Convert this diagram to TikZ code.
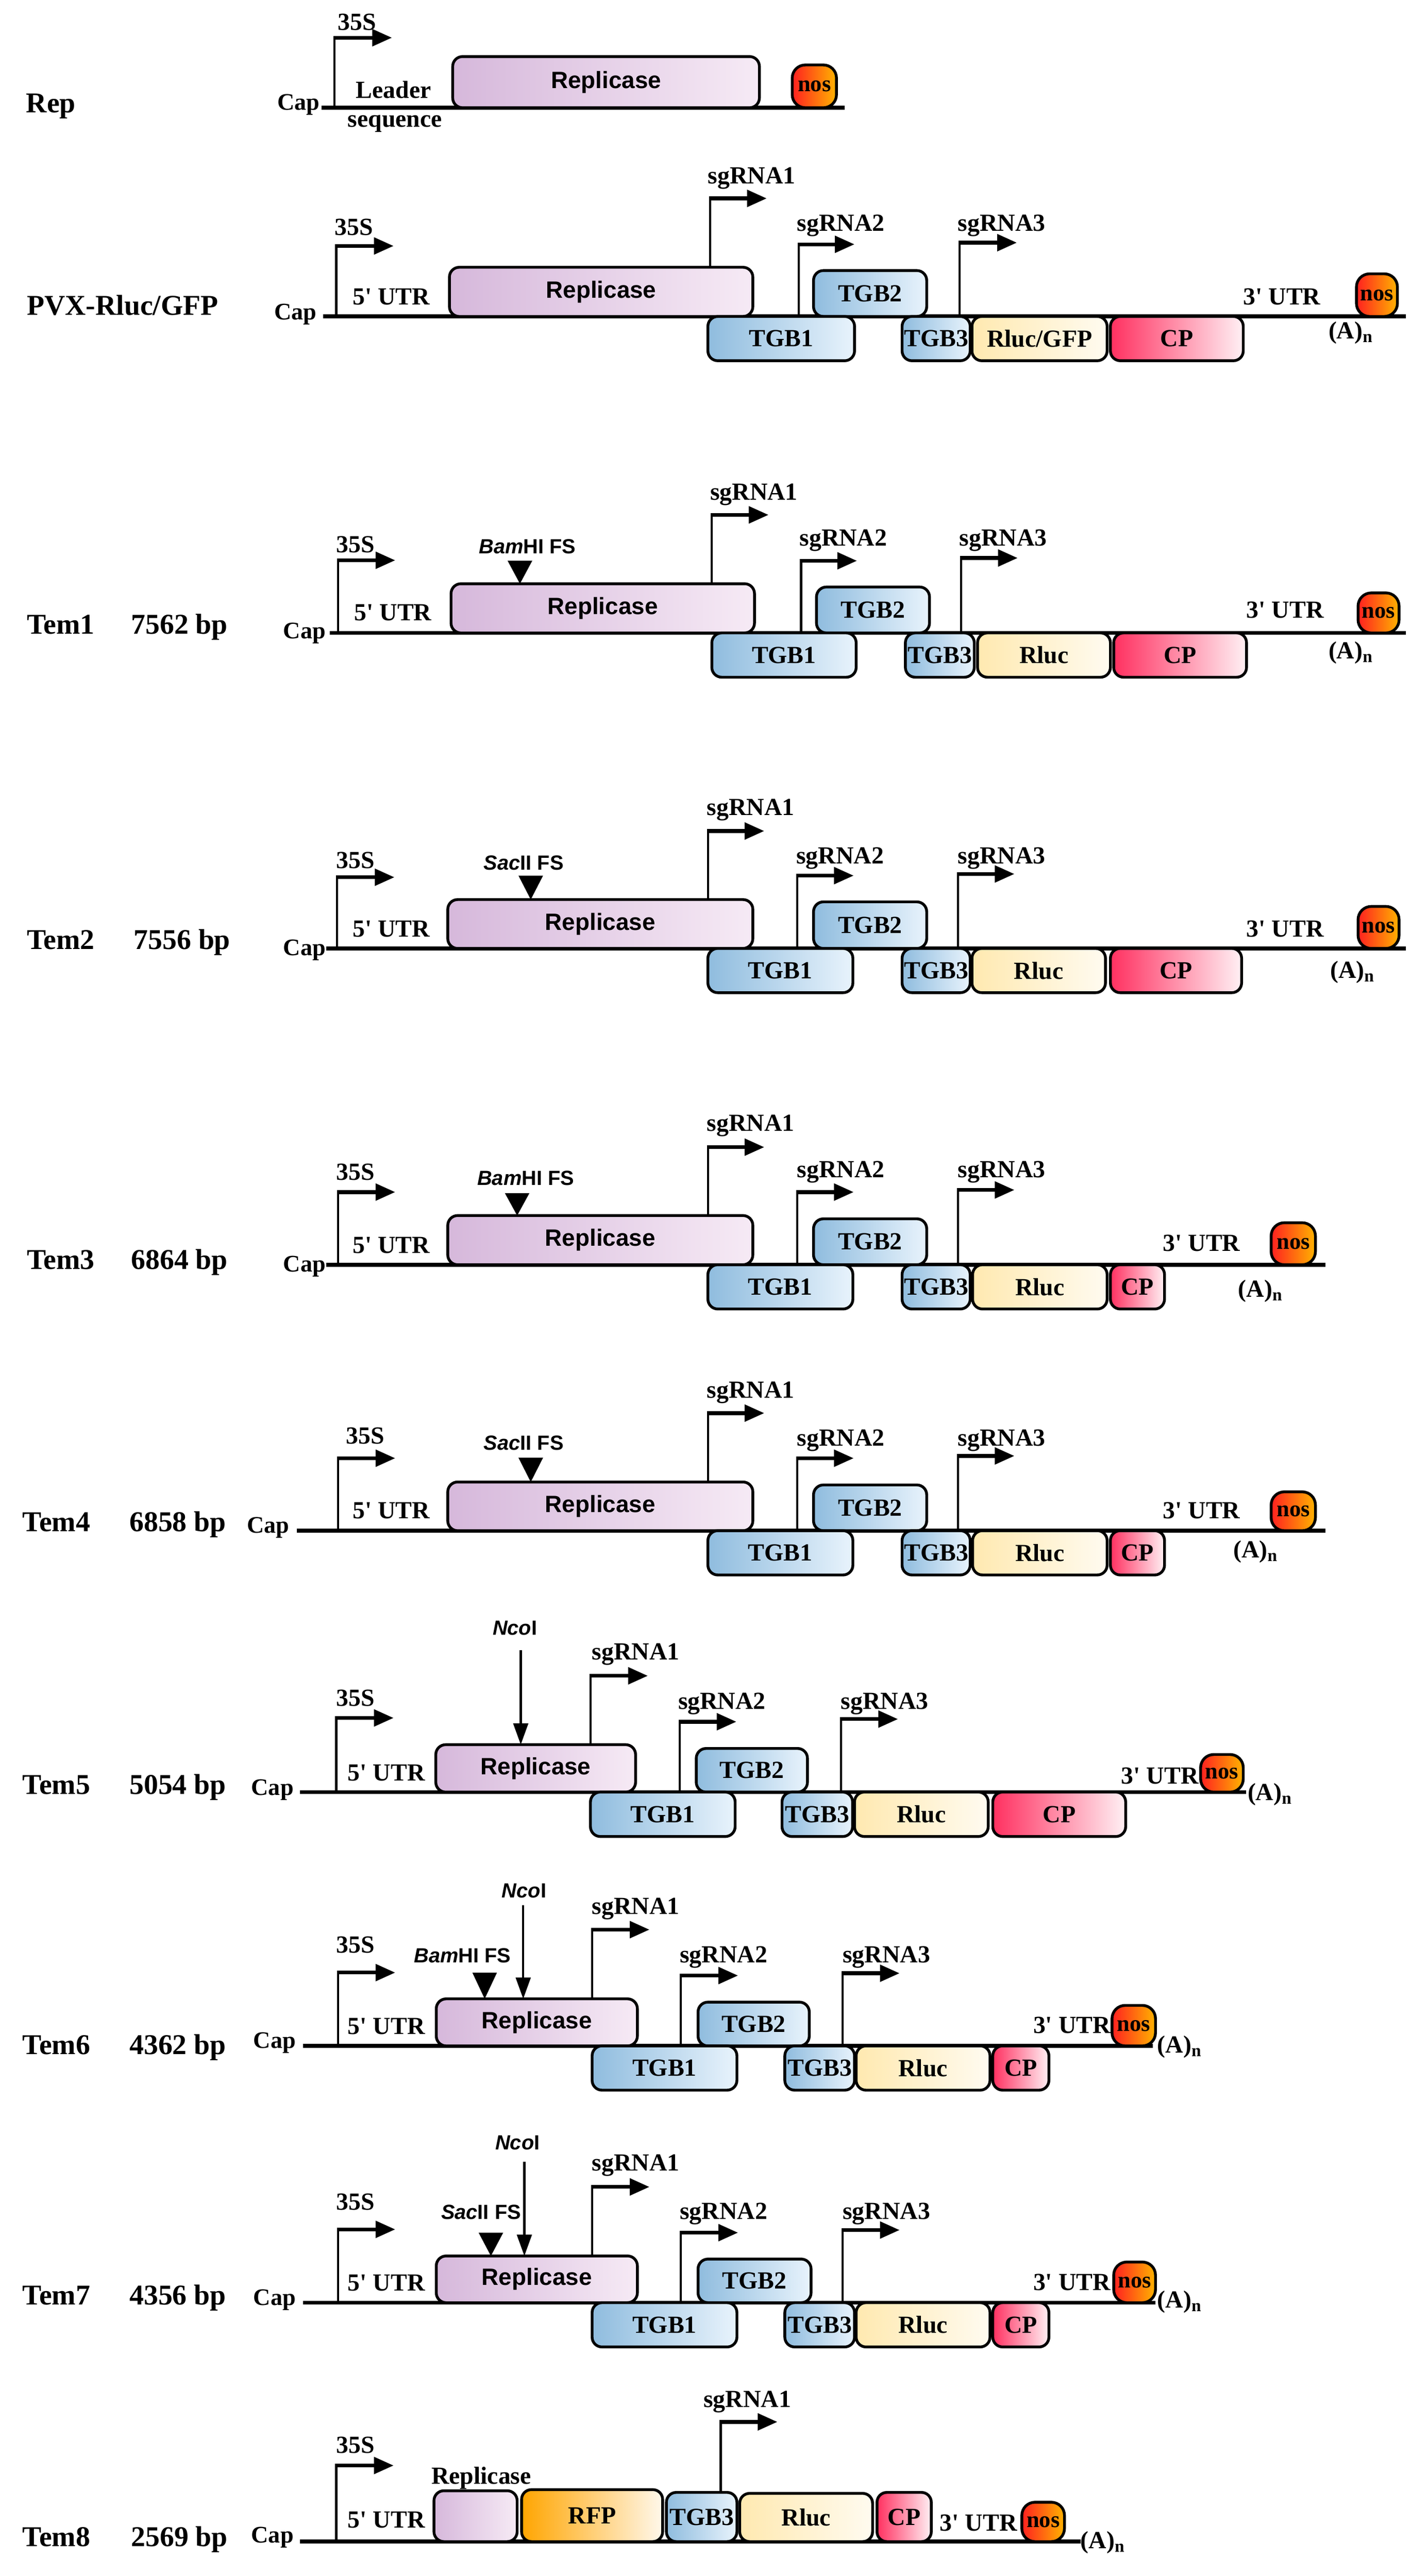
\documentclass[tikz,border=0pt]{standalone}
\usepackage{fontspec}
\setmainfont{Liberation Serif}
\setsansfont{Liberation Sans}
\usetikzlibrary{arrows.meta}
\definecolor{replL}{RGB}{214,184,219}
\definecolor{replR}{RGB}{246,234,245}
\definecolor{tgbL}{RGB}{143,188,222}
\definecolor{tgbR}{RGB}{232,243,252}
\definecolor{rlucL}{RGB}{255,233,176}
\definecolor{rlucR}{RGB}{255,251,240}
\definecolor{cpL}{RGB}{255,48,96}
\definecolor{cpR}{RGB}{255,240,244}
\definecolor{nosL}{RGB}{255,32,32}
\definecolor{nosR}{RGB}{255,179,0}
\definecolor{rfpL}{RGB}{255,165,0}
\definecolor{rfpR}{RGB}{255,248,235}
\newcommand\utr[1]{#1\textquotesingle{} UTR}
\tikzset{
  backbone/.style={line width=2.4pt},
  stem/.style={line width=1.3pt},
  shaft/.style={line width=2.3pt,-{Triangle[length=12pt,width=10pt]}},
  ncoarrow/.style={line width=1.3pt,-{Triangle[length=13pt,width=9pt]}},
  lab/.style={font=\fontsize{15}{17}\selectfont\bfseries,inner sep=0pt,outer sep=0pt,anchor=base west},
  caplab/.style={font=\fontsize{14.5}{17}\selectfont\bfseries,inner sep=0pt,outer sep=0pt,anchor=base east},
  rowlab/.style={font=\fontsize{17.5}{20}\selectfont\bfseries,inner sep=0pt,outer sep=0pt,anchor=base west},
  enz/.style={font=\fontsize{12.5}{14}\selectfont\sffamily\bfseries,inner sep=0pt,outer sep=0pt,anchor=base west},
  gbox/.style={draw,line width=1.7pt,rounded corners=6pt,inner sep=0pt,outer sep=0pt,font=\fontsize{15}{17}\selectfont\bfseries},
  repl/.style={gbox,left color=replL,right color=replR,font=\fontsize{14.4}{16}\selectfont\sffamily\bfseries},
  tgb/.style={gbox,left color=tgbL,right color=tgbR},
  rluc/.style={gbox,left color=rlucL,right color=rlucR},
  cpb/.style={gbox,left color=cpL,right color=cpR},
  rfp/.style={gbox,left color=rfpL,right color=rfpR},
  nosb/.style={gbox,left color=nosL,right color=nosR,rounded corners=8pt,font=\fontsize{14}{16}\selectfont\bfseries},
}
% name, style, x1, x2, ytop, ybottom, text
\newcommand\genebox[7]{%
  \pgfmathsetmacro\gbw{#4-#3}%
  \pgfmathsetmacro\gbh{#6-#5}%
  \pgfmathsetmacro\gbx{(#3+#4)/2}%
  \pgfmathsetmacro\gby{(#5+#6)/2}%
  \node[#2,minimum width=\gbw pt,minimum height=\gbh pt] (#1) at (\gbx,\gby) {#7};}
% name, x, ybottom, ytop, xtip
\newcommand\bent[5]{%
  \coordinate (#1a) at (#2,#3);
  \coordinate (#1b) at (#2,#4);
  \coordinate (#1c) at (#5,#4);
  \draw[stem] (#1a) -- (#1b);
  \draw[shaft] ([xshift=-0.65pt]#1b) -- (#1c);
}
% name, xc, ytop, ytip
\newcommand\fsmark[4]{%
  \coordinate (#1) at (#2,#4);
  \fill (#2-7.5,#3) -- (#2+7.5,#3) -- (#1) -- cycle;
}
% name, x, ytop, ytip
\newcommand\ncoarr[4]{%
  \coordinate (#1a) at (#2,#3);
  \coordinate (#1b) at (#2,#4);
  \draw[ncoarrow] (#1a) -- (#1b);
}
% name, x1, x2, y
\newcommand\bbone[4]{%
  \coordinate (#1s) at (#2,#4);
  \coordinate (#1e) at (#3,#4);
  \draw[backbone] (#1s) -- (#1e);
}
\begin{document}
\begin{tikzpicture}[x=1pt,y=-1pt]
\fill[white] (0,0) rectangle (860,1571);
\useasboundingbox (0,0) rectangle (860,1571);

% ---------------- Rep ----------------
\bbone{r0l}{196}{515}{65.7}
\genebox{r0rep}{repl}{276}{463}{34.5}{65.7}{Replicase}
\genebox{r0nos}{nosb}{483}{510}{39.6}{65.7}{nos}
\bent{r0p}{204}{65.7}{23}{239}
\node[rowlab] (r0lab) at (16,68.5) {Rep};
\node[caplab] (r0cap) at (195,67) {Cap};
\node[lab] (r0p35) at (206,18.5) {35S};
\node[lab] (r0ld) at (217,60) {Leader};
\node[lab] (r0sq) at (212,77.4) {sequence};

% ---------------- PVX-Rluc/GFP ----------------
\bbone{r1l}{197}{857}{193}
\genebox{r1rep}{repl}{274}{459}{163}{193}{Replicase}
\genebox{r1tgb2}{tgb}{496}{565}{165}{193}{TGB2}
\genebox{r1tgb1}{tgb}{431.6}{521}{193}{220}{TGB1}
\genebox{r1tgb3}{tgb}{550}{591.5}{193}{220}{TGB3}
\genebox{r1rluc}{rluc}{592.6}{675}{193}{220}{Rluc/GFP}
\genebox{r1cp}{cpb}{677}{758}{193}{220}{CP}
\genebox{r1nos}{nosb}{827}{852}{167}{193}{nos}
\bent{r1p}{205}{193}{150}{240}
\bent{r1sa}{433}{163}{121}{467.5}
\bent{r1sb}{487}{193}{149}{521}
\bent{r1sc}{585}{193}{148}{620}
\node[rowlab] (r1lab) at (16.5,192) {PVX-Rluc/GFP};
\node[caplab] (r1cap) at (193,195) {Cap};
\node[lab] (r1p35) at (204,143.5) {35S};
\node[lab] (r1u5) at (215,186) {\utr{5}};
\node[lab] (r1la) at (431.6,112) {sgRNA1};
\node[lab] (r1lb) at (486,141) {sgRNA2};
\node[lab] (r1lc) at (584,141) {sgRNA3};
\node[lab] (r1u3) at (758,186) {\utr{3}};
\node[lab] (r1an) at (810,206.5) {(A)\textsubscript{n}};

% ---------------- Tem1 ----------------
\bbone{r2l}{201}{857}{386}
\genebox{r2rep}{repl}{275}{460}{356}{386}{Replicase}
\genebox{r2tgb2}{tgb}{497.8}{566.7}{358}{386}{TGB2}
\genebox{r2tgb1}{tgb}{434}{522}{386}{413}{TGB1}
\genebox{r2tgb3}{tgb}{552}{594}{386}{413}{TGB3}
\genebox{r2rluc}{rluc}{596}{677}{386}{413}{Rluc}
\genebox{r2cp}{cpb}{679}{760}{386}{413}{CP}
\genebox{r2nos}{nosb}{828}{853}{361.6}{386}{nos}
\bent{r2p}{206}{386}{341.7}{241}
\bent{r2sa}{434}{356}{314}{468.6}
\bent{r2sb}{488.4}{386}{342}{522.5}
\bent{r2sc}{586}{386}{340.3}{620.5}
\fsmark{r2fs}{317}{342}{356}
\node[rowlab] (r2lab) at (16.5,386.5) {Tem1};
\node[rowlab] (r2bp) at (80,386.5) {7562 bp};
\node[caplab] (r2cap) at (198.5,389.6) {Cap};
\node[lab] (r2p35) at (205,337) {35S};
\node[enz] (r2enz) at (292,337.5) {\textit{Bam}HI FS};
\node[lab] (r2u5) at (216,378.4) {\utr{5}};
\node[lab] (r2la) at (433,304.8) {sgRNA1};
\node[lab] (r2lb) at (487.5,332.8) {sgRNA2};
\node[lab] (r2lc) at (585,333) {sgRNA3};
\node[lab] (r2u3) at (760,377) {\utr{3}};
\node[lab] (r2an) at (810,401.8) {(A)\textsubscript{n}};

% ---------------- Tem2 ----------------
\bbone{r3l}{199}{857}{578.4}
\genebox{r3rep}{repl}{273}{459}{548.6}{578.4}{Replicase}
\genebox{r3tgb2}{tgb}{496}{565}{550}{578.4}{TGB2}
\genebox{r3tgb1}{tgb}{431.6}{520}{578.4}{605.4}{TGB1}
\genebox{r3tgb3}{tgb}{550}{591.5}{578.4}{605.4}{TGB3}
\genebox{r3rluc}{rluc}{592.6}{674}{578.4}{605.4}{Rluc}
\genebox{r3cp}{cpb}{677}{757}{578.4}{605.4}{CP}
\genebox{r3nos}{nosb}{828}{853}{552.8}{578.4}{nos}
\bent{r3p}{205.6}{578.4}{535}{240.5}
\bent{r3sa}{431.6}{548.6}{506.8}{466}
\bent{r3sb}{486}{578.4}{534}{520.5}
\bent{r3sc}{584}{578.4}{533}{618.5}
\fsmark{r3fs}{323.6}{534}{548.6}
\node[rowlab] (r3lab) at (16.5,579) {Tem2};
\node[rowlab] (r3bp) at (81.6,579) {7556 bp};
\node[caplab] (r3cap) at (198.5,582.6) {Cap};
\node[lab] (r3p35) at (205,529.5) {35S};
\node[enz] (r3enz) at (295,530.4) {\textit{Sac}II FS};
\node[lab] (r3u5) at (215,571.4) {\utr{5}};
\node[lab] (r3la) at (431,497.3) {sgRNA1};
\node[lab] (r3lb) at (485.5,526.7) {sgRNA2};
\node[lab] (r3lc) at (584,526.7) {sgRNA3};
\node[lab] (r3u3) at (760,571.4) {\utr{3}};
\node[lab] (r3an) at (811,596.5) {(A)\textsubscript{n}};

% ---------------- Tem3 ----------------
\bbone{r4l}{199}{808}{771.3}
\genebox{r4rep}{repl}{273}{459}{741.3}{771.3}{Replicase}
\genebox{r4tgb2}{tgb}{496}{565}{743.3}{771.3}{TGB2}
\genebox{r4tgb1}{tgb}{431.6}{520}{771.3}{798.3}{TGB1}
\genebox{r4tgb3}{tgb}{550}{591.5}{771.3}{798.3}{TGB3}
\genebox{r4rluc}{rluc}{593}{675}{771.3}{798.3}{Rluc}
\genebox{r4cp}{cpb}{677}{710}{771.3}{798.3}{CP}
\genebox{r4nos}{nosb}{775}{802}{745.7}{771.3}{nos}
\bent{r4p}{206}{771.3}{727}{241}
\bent{r4sa}{431.6}{741.3}{699.6}{466}
\bent{r4sb}{486}{771.3}{727}{520.5}
\bent{r4sc}{584}{771.3}{725.7}{618.5}
\fsmark{r4fs}{315.3}{727.6}{741.3}
\node[rowlab] (r4lab) at (16.5,774) {Tem3};
\node[rowlab] (r4bp) at (80,774) {6864 bp};
\node[caplab] (r4cap) at (198.5,775.5) {Cap};
\node[lab] (r4p35) at (205,719.6) {35S};
\node[enz] (r4enz) at (291,722.9) {\textit{Bam}HI FS};
\node[lab] (r4u5) at (215,764.4) {\utr{5}};
\node[lab] (r4la) at (431,689.8) {sgRNA1};
\node[lab] (r4lb) at (486,718) {sgRNA2};
\node[lab] (r4lc) at (584,718) {sgRNA3};
\node[lab] (r4u3) at (709,763) {\utr{3}};
\node[lab] (r4an) at (755,791) {(A)\textsubscript{n}};

% ---------------- Tem4 ----------------
\bbone{r5l}{181}{808}{933.5}
\genebox{r5rep}{repl}{273}{459}{903.8}{933.5}{Replicase}
\genebox{r5tgb2}{tgb}{496}{565}{905.6}{933.5}{TGB2}
\genebox{r5tgb1}{tgb}{431.6}{520}{933.5}{960.5}{TGB1}
\genebox{r5tgb3}{tgb}{550}{591.5}{933.5}{960.5}{TGB3}
\genebox{r5rluc}{rluc}{593}{675}{933.5}{960.5}{Rluc}
\genebox{r5cp}{cpb}{677}{710}{933.5}{960.5}{CP}
\genebox{r5nos}{nosb}{775}{802}{909.8}{933.5}{nos}
\bent{r5p}{206}{933.5}{889.3}{241}
\bent{r5sa}{431.6}{903.8}{861.8}{466}
\bent{r5sb}{486}{933.5}{889.3}{520.5}
\bent{r5sc}{584}{933.5}{887.9}{618.5}
\fsmark{r5fs}{323.6}{889}{903.8}
\node[rowlab] (r5lab) at (13.8,934) {Tem4};
\node[rowlab] (r5bp) at (79,934) {6858 bp};
\node[caplab] (r5cap) at (176.4,934.9) {Cap};
\node[lab] (r5p35) at (211,880.4) {35S};
\node[enz] (r5enz) at (295,884.2) {\textit{Sac}II FS};
\node[lab] (r5u5) at (215,926) {\utr{5}};
\node[lab] (r5la) at (431,852.5) {sgRNA1};
\node[lab] (r5lb) at (486,881.8) {sgRNA2};
\node[lab] (r5lc) at (584,881.8) {sgRNA3};
\node[lab] (r5u3) at (709,926) {\utr{3}};
\node[lab] (r5an) at (752,950) {(A)\textsubscript{n}};

% ---------------- Tem5 ----------------
\bbone{r6l}{183}{759.6}{1092.9}
\genebox{r6rep}{repl}{265.7}{387.5}{1064}{1092.9}{Replicase}
\genebox{r6tgb2}{tgb}{424.5}{492.3}{1066.3}{1092.9}{TGB2}
\genebox{r6tgb1}{tgb}{360}{448.2}{1092.9}{1120}{TGB1}
\genebox{r6tgb3}{tgb}{476.8}{519.8}{1092.9}{1120}{TGB3}
\genebox{r6rluc}{rluc}{521}{602.5}{1092.9}{1120}{Rluc}
\genebox{r6cp}{cpb}{605.3}{686.3}{1092.9}{1120}{CP}
\genebox{r6nos}{nosb}{732}{758}{1070}{1092.9}{nos}
\bent{r6p}{205}{1092.9}{1047.7}{240}
\bent{r6sa}{360}{1064}{1022}{395}
\bent{r6sb}{414.5}{1092.9}{1050}{449}
\bent{r6sc}{512.7}{1092.9}{1048.4}{547.5}
\ncoarr{r6nco}{317.5}{1006.3}{1064}
\node[rowlab] (r6lab) at (13.8,1094.3) {Tem5};
\node[rowlab] (r6bp) at (79,1094.3) {5054 bp};
\node[caplab] (r6cap) at (179,1094.8) {Cap};
\node[lab] (r6p35) at (205,1040.5) {35S};
\node[enz] (r6enz) at (300.4,997) {\textit{Nco}I};
\node[lab] (r6u5) at (212,1086) {\utr{5}};
\node[lab] (r6la) at (361,1012.3) {sgRNA1};
\node[lab] (r6lb) at (413.5,1042.2) {sgRNA2};
\node[lab] (r6lc) at (512.7,1042.2) {sgRNA3};
\node[lab] (r6u3) at (683.6,1087.8) {\utr{3}};
\node[lab] (r6an) at (760.7,1098) {(A)\textsubscript{n}};

% ---------------- Tem6 ----------------
\bbone{r7l}{184.7}{702.9}{1247.7}
\genebox{r7rep}{repl}{266}{388.6}{1219}{1247.7}{Replicase}
\genebox{r7tgb2}{tgb}{425.6}{493.4}{1221}{1247.7}{TGB2}
\genebox{r7tgb1}{tgb}{361}{449.3}{1247.7}{1274.7}{TGB1}
\genebox{r7tgb3}{tgb}{478.5}{521}{1247.7}{1274.7}{TGB3}
\genebox{r7rluc}{rluc}{522}{603.6}{1247.7}{1274.7}{Rluc}
\genebox{r7cp}{cpb}{605.3}{639.5}{1247.7}{1274.7}{CP}
\genebox{r7nos}{nosb}{678}{704.5}{1223}{1247.7}{nos}
\bent{r7p}{206}{1247.7}{1203}{241}
\bent{r7sa}{361}{1219}{1176.8}{396}
\bent{r7sb}{415}{1247.7}{1204.8}{450}
\bent{r7sc}{513.8}{1247.7}{1203.4}{548.5}
\fsmark{r7fs}{295.5}{1203}{1219}
\ncoarr{r7nco}{319}{1162}{1219}
\node[rowlab] (r7lab) at (13.8,1252.8) {Tem6};
\node[rowlab] (r7bp) at (79,1252.8) {4362 bp};
\node[caplab] (r7cap) at (180.3,1249) {Cap};
\node[lab] (r7p35) at (205,1191) {35S};
\node[enz] (r7enz) at (252.5,1196.8) {\textit{Bam}HI FS};
\node[enz] (r7nct) at (306,1157.3) {\textit{Nco}I};
\node[lab] (r7u5) at (212,1240.7) {\utr{5}};
\node[lab] (r7la) at (361,1167.5) {sgRNA1};
\node[lab] (r7lb) at (414.5,1196.8) {sgRNA2};
\node[lab] (r7lc) at (513.8,1196.8) {sgRNA3};
\node[lab] (r7u3) at (630,1240) {\utr{3}};
\node[lab] (r7an) at (705.6,1252) {(A)\textsubscript{n}};

% ---------------- Tem7 ----------------
\bbone{r8l}{184.7}{704.5}{1404.3}
\genebox{r8rep}{repl}{266}{388.6}{1375.8}{1404.3}{Replicase}
\genebox{r8tgb2}{tgb}{425.6}{494.5}{1377.7}{1404.3}{TGB2}
\genebox{r8tgb1}{tgb}{361}{449.3}{1404.3}{1431.3}{TGB1}
\genebox{r8tgb3}{tgb}{478.5}{521}{1404.3}{1431.3}{TGB3}
\genebox{r8rluc}{rluc}{522}{603.6}{1404.3}{1431.3}{Rluc}
\genebox{r8cp}{cpb}{605.3}{639.5}{1404.3}{1431.3}{CP}
\genebox{r8nos}{nosb}{679}{704.5}{1379.5}{1404.3}{nos}
\bent{r8p}{206}{1404.3}{1359.6}{241}
\bent{r8sa}{361}{1375.8}{1333.7}{396}
\bent{r8sb}{415}{1404.3}{1361.6}{450}
\bent{r8sc}{513.8}{1404.3}{1360}{548.5}
\fsmark{r8fs}{299.3}{1361.6}{1375.8}
\ncoarr{r8nco}{319.7}{1318.5}{1375.8}
\node[rowlab] (r8lab) at (13.8,1405.7) {Tem7};
\node[rowlab] (r8bp) at (79,1405.7) {4356 bp};
\node[caplab] (r8cap) at (180.3,1405.8) {Cap};
\node[lab] (r8p35) at (205,1347.9) {35S};
\node[enz] (r8enz) at (269,1353.5) {\textit{Sac}II FS};
\node[enz] (r8nct) at (302,1311) {\textit{Nco}I};
\node[lab] (r8u5) at (212,1397) {\utr{5}};
\node[lab] (r8la) at (361,1324) {sgRNA1};
\node[lab] (r8lb) at (414.5,1353.5) {sgRNA2};
\node[lab] (r8lc) at (513.8,1353.5) {sgRNA3};
\node[lab] (r8u3) at (630,1396.8) {\utr{3}};
\node[lab] (r8an) at (705.6,1407.5) {(A)\textsubscript{n}};

% ---------------- Tem8 ----------------
\bbone{r9l}{183}{658.8}{1550}
\genebox{r9rep}{repl}{264.6}{315.3}{1519}{1550}{}
\genebox{r9rfp}{rfp}{318}{404}{1518.3}{1550}{RFP}
\genebox{r9tgb3}{tgb}{406.3}{449.3}{1520}{1550}{TGB3}
\genebox{r9rluc}{rluc}{451}{532}{1520.6}{1550}{Rluc}
\genebox{r9cp}{cpb}{534.7}{567.8}{1520}{1550}{CP}
\genebox{r9nos}{nosb}{623}{649}{1526}{1550}{nos}
\bent{r9p}{205}{1550}{1503.6}{240}
\bent{r9sa}{439.4}{1520}{1477}{474}
\node[rowlab] (r9lab) at (13.8,1552.9) {Tem8};
\node[rowlab] (r9bp) at (80,1552.9) {2569 bp};
\node[caplab] (r9cap) at (179,1550.6) {Cap};
\node[lab] (r9p35) at (205,1496) {35S};
\node[lab] (r9u5) at (212,1541.7) {\utr{5}};
\node[lab] (r9rl) at (263,1514.8) {Replicase};
\node[lab] (r9la) at (429,1468) {sgRNA1};
\node[lab] (r9u3) at (573,1543.6) {\utr{3}};
\node[lab] (r9an) at (658.8,1554.3) {(A)\textsubscript{n}};
\end{tikzpicture}
\end{document}
